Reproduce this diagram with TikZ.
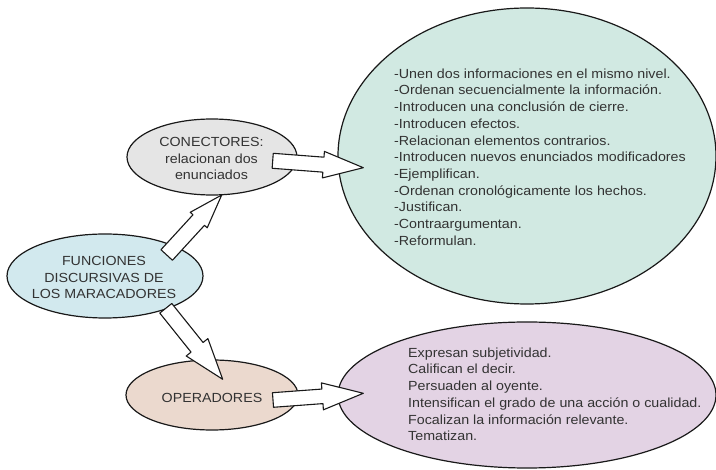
\documentclass[tikz,border=0pt]{standalone}
\usepackage{fontspec}
\setmainfont[FakeStretch=1.08]{Liberation Sans}
\usetikzlibrary{shapes.geometric,calc}

\definecolor{funfill}{HTML}{D2E9EE}
\definecolor{confill}{HTML}{E5E5E5}
\definecolor{opfill}{HTML}{EBD9CE}
\definecolor{listgreen}{HTML}{D1E9E2}
\definecolor{listpurple}{HTML}{E3D3E4}
\definecolor{inkgray}{HTML}{333333}

% Block arrow from tail #1 to tip #2: half shaft width #3, half head width #4, head length #5
\newcommand{\blockarrow}[5]{%
  \coordinate (#1-hb) at ($(#2)!#5pt!(#1)$);
  \draw[barrow]
    ($(#1)!#3pt!90:(#2)$) -- ($(#1-hb)!#3pt!90:(#2)$) -- ($(#1-hb)!#4pt!90:(#2)$)
    -- (#2)
    -- ($(#1-hb)!#4pt!-90:(#2)$) -- ($(#1-hb)!#3pt!-90:(#2)$) -- ($(#1)!#3pt!-90:(#2)$)
    -- cycle;
}

\begin{document}
\begin{tikzpicture}[x=1pt,y=-1pt,
  bubble/.style={ellipse, draw=black!90, line width=1.2pt, inner sep=0pt},
  txt/.style={text=inkgray, font=\fontsize{13.2}{16.7}\selectfont},
  barrow/.style={draw=black!90, line width=1.1pt, fill=white, line join=round},
]
\useasboundingbox (0,0) rectangle (716,470);
\fill[white] (0,0) rectangle (716,470);

% main topic and its two branches
\node[bubble, fill=funfill, minimum width=196pt, minimum height=84pt] (fun) at (105,276) {};
\node[txt, align=center, inner sep=0pt] (funtxt) at (104,277.5)
  {FUNCIONES\\DISCURSIVAS DE\\LOS MARACADORES};
\node[bubble, fill=confill, minimum width=170pt, minimum height=76pt] (con) at (212,157) {};
\node[txt, align=center, inner sep=0pt] (contxt) at (211.5,158.5)
  {CONECTORES:\\relacionan dos\\enunciados};
\node[bubble, fill=opfill, minimum width=172pt, minimum height=70pt] (op) at (212,395) {};
\node[txt, inner sep=0pt] (optxt) at (212,397.5) {OPERADORES};

% detail bubbles
\node[bubble, fill=listgreen, minimum width=378pt, minimum height=296pt] (conbub) at (527,156) {};
\node[bubble, fill=listpurple, minimum width=378pt, minimum height=146pt] (opbub) at (527,395) {};

\node[txt, anchor=north west, align=left, inner sep=0pt] (conlist) at (394,68.5)
  {-Unen dos informaciones en el mismo nivel.\\
   -Ordenan secuencialmente la información.\\
   -Introducen una conclusión de cierre.\\
   -Introducen efectos.\\
   -Relacionan elementos contrarios.\\
   -Introducen nuevos enunciados modificadores\\
   -Ejemplifican.\\
   -Ordenan cronológicamente los hechos.\\
   -Justifican.\\
   -Contraargumentan.\\
   -Reformulan.};

\node[txt, anchor=north west, align=left, inner sep=0pt] (oplist) at (408,347.5)
  {Expresan subjetividad.\\
   Califican el decir.\\
   Persuaden al oyente.\\
   Intensifican el grado de una acción o cualidad.\\
   Focalizan la información relevante.\\
   Tematizan.};

% arrow end points
\coordinate (a1s) at (166.7,255);
\coordinate (a1e) at (221.7,195);
\coordinate (a2s) at (165.8,308.3);
\coordinate (a2e) at (222.7,379.3);
\coordinate (a3s) at (272.7,160.8);
\coordinate (a3e) at (363.3,167.7);
\coordinate (a4s) at (273,400);
\coordinate (a4e) at (363.3,393.3);

\blockarrow{a1s}{a1e}{7.8}{11.5}{34}
\blockarrow{a2s}{a2e}{7.7}{13.9}{41}
\blockarrow{a3s}{a3e}{7.5}{13.3}{40}
\blockarrow{a4s}{a4e}{7.3}{13.5}{41}
\end{tikzpicture}
\end{document}
